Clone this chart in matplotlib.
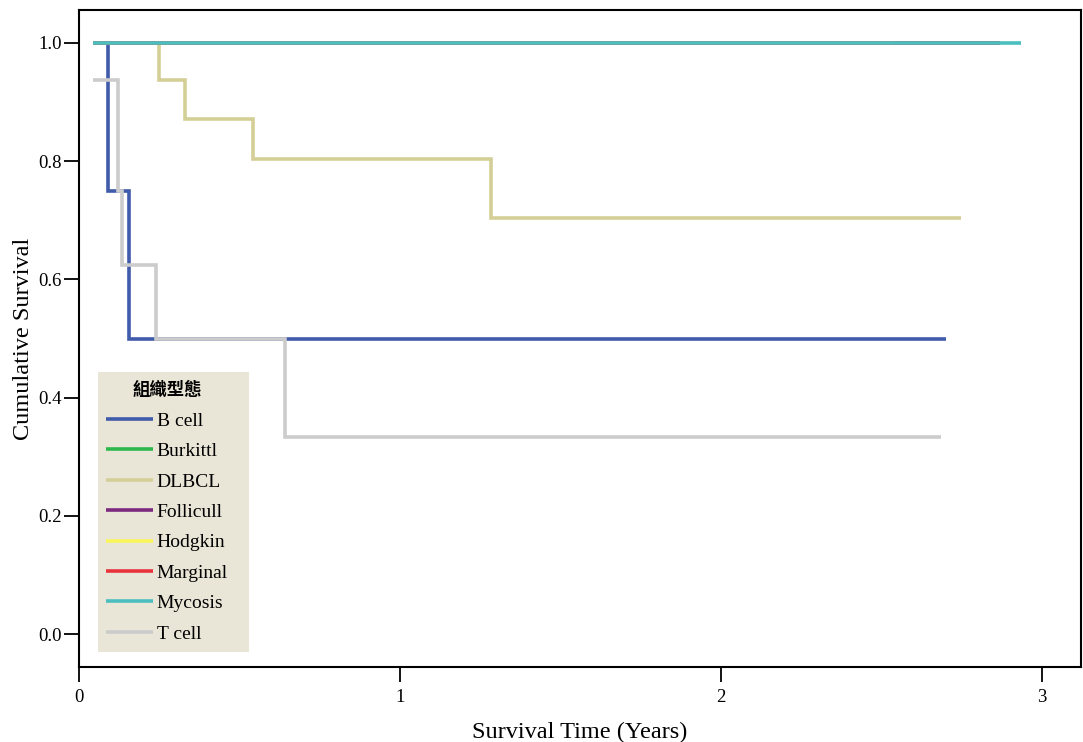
"""
Kaplan-Meier curves by histologic type
"""
import matplotlib
matplotlib.use('Agg')
import matplotlib.pyplot as plt
from matplotlib.patches import Rectangle

SERIF = ['Liberation Serif', 'Noto Sans CJK TC', 'DejaVu Serif']
plt.rcParams['font.family'] = SERIF

# step points: (times, survival)
groups = ['B cell', 'Burkittl', 'DLBCL', 'Follicull', 'Hodgkin', 'Marginal', 'Mycosis', 'T cell']
colors = ['#3F5BAA', '#2DB84B', '#D4CF96', '#7B2A80', '#FAF55A', '#E8333C', '#4BBFBF', '#CCCCCC']

b_cell_t = [0.044, 0.090, 0.156, 2.700]
b_cell_s = [1.0, 0.75, 0.50, 0.50]

burkittl_t = [0.044, 2.536]
burkittl_s = [1.0, 1.0]

dlbcl_t = [0.044, 0.249, 0.330, 0.541, 1.283, 2.748]
dlbcl_s = [1.0, 0.9375, 0.871, 0.804, 0.704, 0.704]

follicull_t = [0.044, 2.869]
follicull_s = [1.0, 1.0]

hodgkin_t = [0.044, 2.536]
hodgkin_s = [1.0, 1.0]

marginal_t = [0.044, 2.869]
marginal_s = [1.0, 1.0]

mycosis_t = [0.044, 2.935]
mycosis_s = [1.0, 1.0]

t_cell_t = [0.044, 0.123, 0.133, 0.239, 0.642, 2.685]
t_cell_s = [0.9375, 0.75, 0.625, 0.50, 0.333, 0.333]

curves = [(b_cell_t, b_cell_s), (burkittl_t, burkittl_s), (dlbcl_t, dlbcl_s),
          (follicull_t, follicull_s), (hodgkin_t, hodgkin_s), (marginal_t, marginal_s),
          (mycosis_t, mycosis_s), (t_cell_t, t_cell_s)]

# draw order: blue, grey, khaki under the flat 1.0 lines, teal on top
order = [0, 7, 2, 1, 3, 4, 5, 6]

fig = plt.figure(figsize=(10.83, 7.42), dpi=100)
ax = fig.add_axes([0.0729, 0.101, 0.925, 0.8855])

handles = {}
for i in order:
    t, s = curves[i]
    line, = ax.step(t, s, where='post', color=colors[i], linewidth=2.6,
                    solid_capstyle='butt', solid_joinstyle='miter')
    handles[i] = line

ax.set_xlim(0, 3.121)
ax.set_ylim(-0.0558, 1.0558)
ax.set_xticks([0, 1, 2, 3])
ax.set_yticks([0.0, 0.2, 0.4, 0.6, 0.8, 1.0])
ax.set_yticklabels(['0.0', '0.2', '0.4', '0.6', '0.8', '1.0'])
ax.tick_params(axis='both', length=11, width=1.3, labelsize=13.5, direction='out')
ax.tick_params(axis='x', pad=5)
ax.tick_params(axis='y', pad=1.5)

for side in ['left', 'bottom', 'top', 'right']:
    ax.spines[side].set_linewidth(1.5)

ax.set_xlabel('Survival Time (Years)', fontsize=17.5, labelpad=11)
ax.set_ylabel('Cumulative Survival', fontsize=17.5, labelpad=3)

# legend background box, a bit wider than matplotlib's own frame
ax.add_patch(Rectangle((0.019, 0.0228), 0.1507, 0.4262, transform=ax.transAxes,
                       facecolor='#EAE6D7', edgecolor='none', zorder=4))

leg = ax.legend([handles[i] for i in range(len(groups))], groups,
                title='組織型態', loc='upper left', bbox_to_anchor=(0.0215, 0.443),
                fontsize=14, title_fontsize=12.5, frameon=False,
                handlelength=2.4, handletextpad=0.2, labelspacing=0.66,
                borderpad=0.3, borderaxespad=0)
leg.get_title().set_fontweight('bold')
leg.set_zorder(5)

fig.savefig('out.png', dpi=100, facecolor='white')
plt.close(fig)
